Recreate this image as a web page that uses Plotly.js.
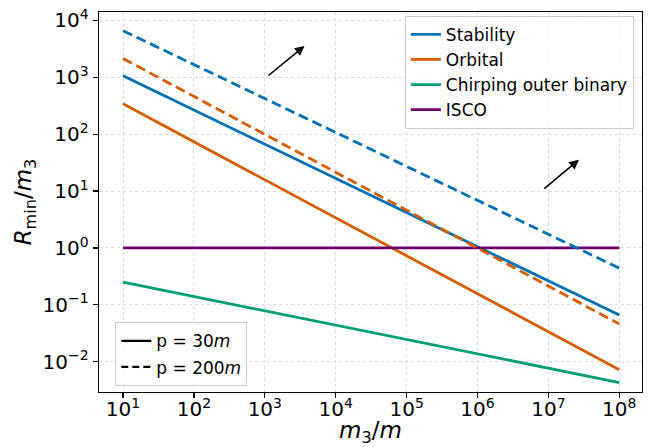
<!DOCTYPE html>
<html>
<head>
<meta charset="utf-8">
<script src="https://cdn.plot.ly/plotly-3.0.1.min.js"></script>
<style>html,body{margin:0;padding:0;background:#fff;}#chart{width:650px;height:447px;}</style>
</head>
<body>
<div id="chart"></div>
<script>
// Data (endpoints of straight log-log lines)
const massRatio = [10, 1e8];
const stability30 = [1060, 0.066];
const stability200 = [6600, 0.44];
const orbital30 = [342, 0.0072];
const orbital200 = [2140, 0.046];
const chirping = [0.25, 0.0043];
const isco = [1, 1];

const seriesNames = ['Stability', 'Orbital', 'Chirping outer binary', 'ISCO'];
const styleNames = ['p = 30<i>m</i>', 'p = 200<i>m</i>'];

const xTickVals = [1e1, 1e2, 1e3, 1e4, 1e5, 1e6, 1e7, 1e8];
const xTickText = ['10<sup>1</sup>', '10<sup>2</sup>', '10<sup>3</sup>', '10<sup>4</sup>', '10<sup>5</sup>', '10<sup>6</sup>', '10<sup>7</sup>', '10<sup>8</sup>'];
const yTickVals = [1e-2, 1e-1, 1e0, 1e1, 1e2, 1e3, 1e4];
const yTickText = ['10<sup>−2</sup>', '10<sup>−1</sup>', '10<sup>0</sup>', '10<sup>1</sup>', '10<sup>2</sup>', '10<sup>3</sup>', '10<sup>4</sup>'];

// arrows (log10 coordinates): [tailX, tailY, headX, headY]
const arrow1 = [3.03, 3.01, 3.56, 3.55];
const arrow2 = [6.92, 1.02, 7.43, 1.55];

const colors = {blue: '#0072B2', orange: '#D55E00', green: '#009E73', purple: '#6E006E'};
const LW = 2.8;
const DASH = '10px,5px';

const traces = [
  {x: massRatio, y: stability30, name: seriesNames[0], legendgroup: 'a', line: {color: colors.blue, width: LW}},
  {x: massRatio, y: orbital30, name: seriesNames[1], legendgroup: 'b', line: {color: colors.orange, width: LW}},
  {x: massRatio, y: chirping, name: seriesNames[2], legendgroup: 'c', line: {color: colors.green, width: LW}},
  {x: massRatio, y: isco, name: seriesNames[3], legendgroup: 'd', line: {color: colors.purple, width: LW}},
  {x: massRatio, y: stability200, showlegend: false, line: {color: colors.blue, width: LW, dash: DASH}},
  {x: massRatio, y: orbital200, showlegend: false, line: {color: colors.orange, width: LW, dash: DASH}},
  {x: [null], y: [null], name: styleNames[0], legend: 'legend2', legendgroup: 'e', line: {color: '#000', width: 2.2}},
  {x: [null], y: [null], name: styleNames[1], legend: 'legend2', legendgroup: 'f', line: {color: '#000', width: 2.2, dash: '7px,4px'}}
].map(t => Object.assign({type: 'scatter', mode: 'lines', hoverinfo: 'skip'}, t));

function arrow(a) {
  return {x: a[2], y: a[3], ax: a[0], ay: a[1], xref: 'x', yref: 'y', axref: 'x', ayref: 'y',
    showarrow: true, arrowhead: 2, arrowsize: 1.2, arrowwidth: 1.6, arrowcolor: '#000', text: ''};
}

const axisCommon = {
  type: 'log', tickmode: 'array',
  showgrid: true, gridcolor: '#d9d9d9', griddash: 'dot', gridwidth: 1,
  zeroline: false, showline: true, linecolor: '#000', linewidth: 1.3, mirror: true,
  ticks: 'outside', ticklen: 5, tickwidth: 1.2, tickcolor: '#000',
  tickfont: {family: 'DejaVu Sans', size: 20, color: '#000'}
};

const layout = {
  width: 650, height: 447,
  margin: {l: 99, r: 8, t: 12, b: 55},
  paper_bgcolor: '#fff', plot_bgcolor: '#fff',
  font: {family: 'DejaVu Sans', color: '#000'},
  xaxis: Object.assign({}, axisCommon, {
    range: [0.661, 8.32], tickvals: xTickVals, ticktext: xTickText, ticklabelstandoff: -6,
    title: {text: '<i>m</i><sub>3</sub>/<i>m</i>', font: {size: 23, family: 'DejaVu Sans'}, standoff: 0}
  }),
  yaxis: Object.assign({}, axisCommon, {
    range: [-2.533, 4.148], tickvals: yTickVals, ticktext: yTickText,
    title: {text: '<i>R</i><sub>min</sub>/<i>m</i><sub>3</sub>', font: {size: 23, family: 'DejaVu Sans'}, standoff: 4}
  }),
  legend: {
    x: 0.985, y: 0.99, xanchor: 'right', yanchor: 'top',
    bgcolor: 'rgba(255,255,255,0.85)', bordercolor: '#cccccc', borderwidth: 1,
    font: {family: 'DejaVu Sans', size: 17}, tracegroupgap: 0, traceorder: 'grouped'
  },
  legend2: {
    x: 0.03, y: 0.015, xanchor: 'left', yanchor: 'bottom',
    bgcolor: 'rgba(255,255,255,0.85)', bordercolor: '#cccccc', borderwidth: 1,
    font: {family: 'DejaVu Sans', size: 17}, tracegroupgap: 1, traceorder: 'grouped'
  },
  annotations: [arrow(arrow1), arrow(arrow2)],
  showlegend: true
};

Plotly.newPlot('chart', traces, layout, {displayModeBar: false, staticPlot: true});
</script>
</body>
</html>
